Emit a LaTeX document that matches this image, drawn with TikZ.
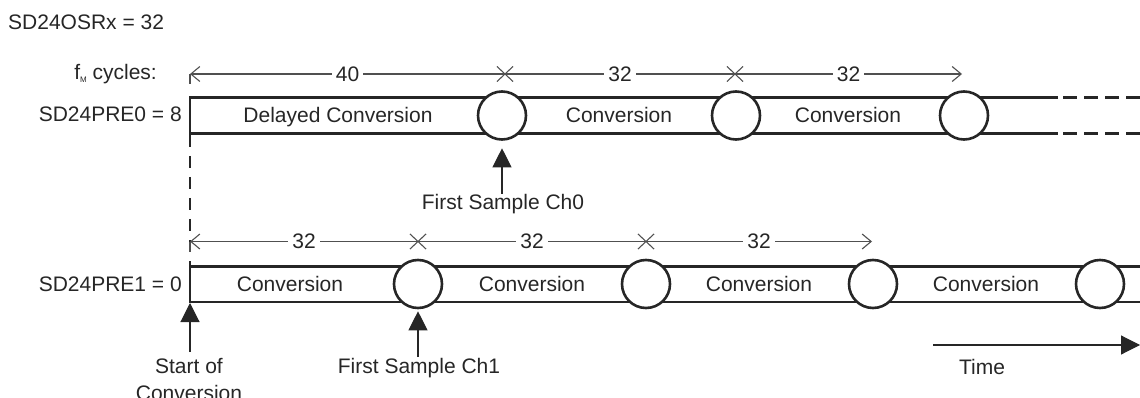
\documentclass[tikz,border=0pt]{standalone}
\usepackage{fontspec}
\setmainfont{Liberation Sans}
\usetikzlibrary{arrows.meta,shapes.misc}
\definecolor{ink}{HTML}{262626}
\definecolor{dimc}{HTML}{505050}
\tikzset{
  txt/.style={font=\fontsize{21}{26}\selectfont, text=ink, inner sep=0pt},
  bartxt/.style={txt, anchor=base},
  bar/.style={draw=ink, line width=2.7pt},
  barend/.style={draw=ink, line width=2.7pt, dash pattern=on 14pt off 7pt},
  smp/.style={circle, draw=ink, line width=2.6pt, fill=white, minimum size=48pt, inner sep=0pt},
  dim/.style={draw=dimc, line width=1.1pt},
  lbl/.style={txt, fill=white, inner xsep=4pt, inner ysep=1pt},
  xmark/.style={cross out, draw=dimc, line width=1.1pt, minimum width=15pt, minimum height=14pt, inner sep=0pt},
  vdash/.style={draw=ink, line width=1.5pt, dash pattern=on 12pt off 9pt},
  pointer/.style={draw=ink, line width=1.1pt, -{Triangle[length=19pt,width=19pt]}},
}
\begin{document}
\begin{tikzpicture}[x=1pt,y=-1pt]
\useasboundingbox (0,0) rectangle (1140,398);

% titles and row labels
\node[txt, anchor=west] (osr) at (8,22) {SD24OSRx = 32};
\node[txt, anchor=east] (fm) at (157,74) {f\raisebox{-3pt}{\fontsize{8}{8}\selectfont M} cycles:};
\node[txt, anchor=base east] (pre0) at (182,122) {SD24PRE0 = 8};
\node[txt, anchor=base east] (pre1) at (182,291) {SD24PRE1 = 0};

% vertical dashed start line
\coordinate (v0) at (190,135);
\coordinate (v1) at (190,266);
\draw[vdash] (v0) -- (v1);

% ----- top row bar -----
\draw[bar] (1058,97.7) -| (190,133.5) -- (1058,133.5);
\draw[barend] (1063,97.7) -- (1140,97.7);
\draw[barend] (1063,133.5) -- (1140,133.5);
\node[smp] (c01) at (502,115.5) {};
\node[smp] (c02) at (736,115.5) {};
\node[smp] (c03) at (964,115.5) {};
\node[bartxt] (tdc) at (338,123) {Delayed Conversion};
\node[bartxt] (tc2) at (619,123) {Conversion};
\node[bartxt] (tc3) at (848,123) {Conversion};

% top dimension line
\coordinate (d00) at (190,74);
\coordinate (d0t) at (190,84);
\node[xmark] (x01) at (505,74) {};
\node[xmark] (x02) at (735,74) {};
\coordinate (d03) at (962,74);
\draw[dim] (d00) -- (d0t);
\draw[dim, {Straight Barb[length=9pt,width=15pt]}-] (d00) -- node[lbl] (n40) {40} (x01.center);
\draw[dim] (x01.center) -- node[lbl] (n32a) {32} (x02.center);
\draw[dim, -{Straight Barb[length=9pt,width=15pt]}] (x02.center) -- node[lbl] (n32b) {32} (d03);

% Ch0 pointer
\coordinate (a0) at (502,194);
\draw[pointer, shorten >=7.5pt] (a0) -- (c01.south);
\node[txt] (fs0) at (503,204) {First Sample Ch0};

% ----- bottom row bar -----
\draw[bar] (1140,266.5) -| (190,302) -- (1140,302);
\node[smp] (c11) at (418,284) {};
\node[smp] (c12) at (646,284) {};
\node[smp] (c13) at (873,284) {};
\node[smp] (c14) at (1100,284) {};
\node[bartxt] (bc1) at (290,291) {Conversion};
\node[bartxt] (bc2) at (532,291) {Conversion};
\node[bartxt] (bc3) at (759,291) {Conversion};
\node[bartxt] (bc4) at (986,291) {Conversion};

% bottom dimension line
\coordinate (d10) at (190,241.5);
\coordinate (d1t) at (190,252);
\node[xmark] (x11) at (418,241.5) {};
\node[xmark] (x12) at (646,241.5) {};
\coordinate (d13) at (872,241.5);
\draw[dim] (d10) -- (d1t);
\draw[dim, {Straight Barb[length=9pt,width=15pt]}-] (d10) -- node[lbl] (m32a) {32} (x11.center);
\draw[dim] (x11.center) -- node[lbl] (m32b) {32} (x12.center);
\draw[dim, -{Straight Barb[length=9pt,width=15pt]}] (x12.center) -- node[lbl] (m32c) {32} (d13);

% start of conversion pointer
\coordinate (s0) at (190,352);
\coordinate (s1) at (190,303);
\draw[pointer] (s0) -- (s1);
\node[txt, align=center] (soc) at (189,380) {Start of\\[1pt]Conversion};

% Ch1 pointer
\coordinate (a1) at (418,357);
\draw[pointer, shorten >=2pt] (a1) -- (c11.south);
\node[txt] (fs1) at (419,368) {First Sample Ch1};

% time arrow
\coordinate (t0) at (933,345);
\coordinate (t1) at (1140,345);
\draw[pointer] (t0) -- (t1);
\node[txt] (time) at (982,367) {Time};
\end{tikzpicture}
\end{document}
